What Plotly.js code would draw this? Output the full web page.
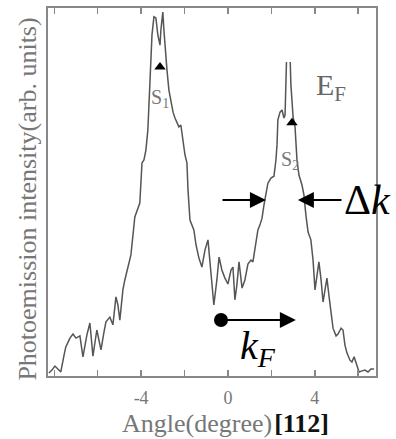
<!DOCTYPE html>
<html>
<head>
<meta charset="utf-8">
<script src="https://cdn.plot.ly/plotly-3.0.1.min.js"></script>
<style>
  html, body { margin: 0; padding: 0; background: #fff; }
  #chart { width: 396px; height: 439px; }
</style>
</head>
<body>
<div id="chart"></div>
<script>
// Angle-resolved photoemission intensity at E_F along [112]
var angleDeg = [
  -8.25, -8.11, -7.97, -7.83, -7.70, -7.56, -7.47, -7.28, -7.14, -7.00,
  -6.82, -6.68, -6.50, -6.36, -6.22, -6.04, -5.85, -5.71, -5.62, -5.44,
  -5.30, -5.16, -5.07, -4.98, -4.84, -4.75, -4.65, -4.47, -4.29, -4.15,
  -4.06, -3.96, -3.87, -3.78, -3.69, -3.59, -3.50, -3.41, -3.32, -3.23,
  -3.13, -3.09, -3.00, -2.95, -2.90, -2.81, -2.72, -2.63, -2.53, -2.44,
  -2.35, -2.26, -2.17, -2.07, -1.98, -1.89, -1.84, -1.75, -1.66, -1.57,
  -1.47, -1.34, -1.20, -1.06, -0.92, -0.83, -0.74, -0.65, -0.51, -0.41,
  -0.28, -0.14, 0.00, 0.14, 0.23, 0.32, 0.41, 0.51, 0.65, 0.78,
  0.92, 1.06, 1.15, 1.29, 1.38, 1.47, 1.57, 1.66, 1.75, 1.84,
  1.98, 2.12, 2.21, 2.26, 2.30, 2.40, 2.49, 2.58, 2.63, 2.67,
  2.72, 2.76, 2.81, 2.86, 2.90, 3.00, 3.09, 3.18, 3.27, 3.41,
  3.50, 3.59, 3.69, 3.82, 3.92, 4.01, 4.10, 4.19, 4.29, 4.38,
  4.47, 4.56, 4.65, 4.75, 4.84, 4.98, 5.07, 5.21, 5.30, 5.39,
  5.48, 5.62, 5.71, 5.81, 5.90, 6.04, 6.18, 6.31, 6.45, 6.59,
  6.73
];
var intensity = [
  0.8, 1.6, 2.7, 1.9, 1.1, 5.4, 7.9, 10.3, 11.4, 10.3,
  10.9, 5.2, 11.1, 14.4, 5.4, 12.5, 7.1, 12.0, 14.7, 16.0,
  13.9, 21.5, 19.3, 15.2, 23.4, 26.1, 28.8, 32.9, 43.2, 45.7,
  47.0, 57.9, 58.7, 61.4, 66.8, 80.4, 92.7, 97.6, 97.3, 92.7,
  89.9, 94.0, 98.9, 94.0, 89.1, 83.2, 77.7, 75.0, 71.7, 70.1,
  69.0, 67.7, 68.2, 64.1, 60.1, 57.9, 50.5, 42.4, 41.0, 39.7,
  35.6, 32.1, 29.6, 34.2, 37.0, 31.5, 24.7, 19.3, 26.1, 32.3,
  28.8, 26.6, 25.0, 28.8, 29.6, 20.7, 24.7, 31.0, 23.9, 26.1,
  30.4, 31.5, 31.0, 37.0, 39.7, 41.0, 42.9, 46.5, 49.2, 52.4,
  53.8, 54.3, 58.7, 62.8, 69.6, 71.7, 72.3, 70.1, 70.9, 80.4,
  90.8, 88.6, 90.0, 87.2, 79.1, 70.4, 67.7, 58.7, 54.6, 51.9,
  49.2, 43.8, 39.1, 37.0, 31.5, 23.4, 27.4, 31.0, 26.1, 20.1,
  23.4, 26.6, 22.0, 16.6, 13.0, 10.9, 11.4, 13.0, 12.5, 8.4,
  6.3, 4.3, 3.8, 5.2, 3.8, 1.1, 1.4, 1.6, 1.1, 1.9,
  1.9
];

// Peak positions S1, S2 (markers)
var peakNames = ['S<sub>1</sub>', 'S<sub>2</sub>'];
var peakAngle = [-3.13, 2.95];
var peakHeight = [84.0, 68.8];

// Fermi wavevector origin marker
var kfAngle = [-0.32];
var kfHeight = [15.2];

var tickVals = [-8, -6, -4, -2, 0, 2, 4, 6];
var tickText = ['', '', '-4', '', '0', '', '4', ''];

var xTitle = 'Angle(degree)<span style="font-size:8px"> </span><b><span style="color:#111;font-size:26px">[112]</span></b>';
var yTitle = 'Photoemission intensity(arb. units)';

var serif = 'Liberation Serif, Times New Roman, serif';

var traces = [
  {
    x: angleDeg, y: intensity, type: 'scatter', mode: 'lines',
    line: { color: '#555555', width: 1.5 }, hoverinfo: 'skip'
  },
  {
    x: peakAngle, y: peakHeight, type: 'scatter', mode: 'markers',
    marker: { symbol: 'triangle-up', size: 10, color: '#000' }, hoverinfo: 'skip'
  },
  {
    x: kfAngle, y: kfHeight, type: 'scatter', mode: 'markers',
    marker: { symbol: 'circle', size: 14, color: '#000' }, hoverinfo: 'skip'
  }
];

var layout = {
  width: 396, height: 439,
  margin: { l: 48, r: 20, t: 8, b: 63, pad: 0 },
  paper_bgcolor: '#fff', plot_bgcolor: '#fff',
  showlegend: false,
  font: { family: serif, color: '#777' },
  xaxis: {
    range: [-8.29, 6.82],
    showline: true, linecolor: '#888', linewidth: 2, mirror: 'ticks',
    ticks: 'inside', ticklen: 6, tickwidth: 1.5, tickcolor: '#888',
    tickmode: 'array', tickvals: tickVals, ticktext: tickText,
    tickfont: { family: serif, size: 18, color: '#777' },
    ticklabelstandoff: 4,
    showgrid: false, zeroline: false
  },
  yaxis: {
    range: [0, 100],
    showline: true, linecolor: '#888', linewidth: 2, mirror: true,
    ticks: '', showticklabels: false,
    showgrid: false, zeroline: false
  },
  shapes: [
    { type: 'rect', xref: 'x', yref: 'y', x0: 2.44, x1: 6.04, y0: 85.3, y1: 93.2,
      fillcolor: '#fff', line: { width: 0 }, layer: 'above' }
  ],
  annotations: [
    // axis titles
    { x: 0.54, y: -0.128, xref: 'paper', yref: 'paper', xanchor: 'center', yanchor: 'middle',
      text: xTitle, showarrow: false, font: { family: serif, size: 26, color: '#777' } },
    { x: -0.061, y: 0.482, xref: 'paper', yref: 'paper', xanchor: 'center', yanchor: 'middle',
      textangle: -90, text: yTitle, showarrow: false, font: { family: serif, size: 26, color: '#777' } },
    // peak labels
    { x: peakAngle[0], y: 75.5, xref: 'x', yref: 'y', text: peakNames[0], showarrow: false,
      font: { family: serif, size: 20, color: '#777' } },
    { x: 2.85, y: 58.5, xref: 'x', yref: 'y', text: peakNames[1], showarrow: false,
      font: { family: serif, size: 20, color: '#777' } },
    { x: 4.75, y: 78.5, xref: 'x', yref: 'y', text: 'E<sub>F</sub>', showarrow: false,
      font: { family: serif, size: 30, color: '#666' } },
    // Δk width arrows
    { x: 1.75, y: 47.8, ax: -0.32, ay: 47.8, xref: 'x', yref: 'y', axref: 'x', ayref: 'y',
      text: '', showarrow: true, arrowhead: 2, arrowsize: 1.6, arrowwidth: 2, arrowcolor: '#000' },
    { x: 3.22, y: 47.8, ax: 5.30, ay: 47.8, xref: 'x', yref: 'y', axref: 'x', ayref: 'y',
      text: '', showarrow: true, arrowhead: 2, arrowsize: 1.6, arrowwidth: 2, arrowcolor: '#000' },
    { x: 6.42, y: 47.8, xref: 'x', yref: 'y', text: 'Δ<i>k</i>', showarrow: false,
      font: { family: serif, size: 42, color: '#000' } },
    // k_F arrow
    { x: 3.13, y: 15.2, ax: kfAngle[0], ay: kfHeight[0], xref: 'x', yref: 'y', axref: 'x', ayref: 'y',
      text: '', showarrow: true, arrowhead: 2, arrowsize: 1.6, arrowwidth: 2, arrowcolor: '#000' },
    { x: 1.40, y: 7.5, xref: 'x', yref: 'y', text: '<i>k<sub>F</sub></i>', showarrow: false,
      font: { family: serif, size: 40, color: '#000' } }
  ]
};

Plotly.newPlot('chart', traces, layout, { staticPlot: true, displayModeBar: false });
</script>
</body>
</html>
